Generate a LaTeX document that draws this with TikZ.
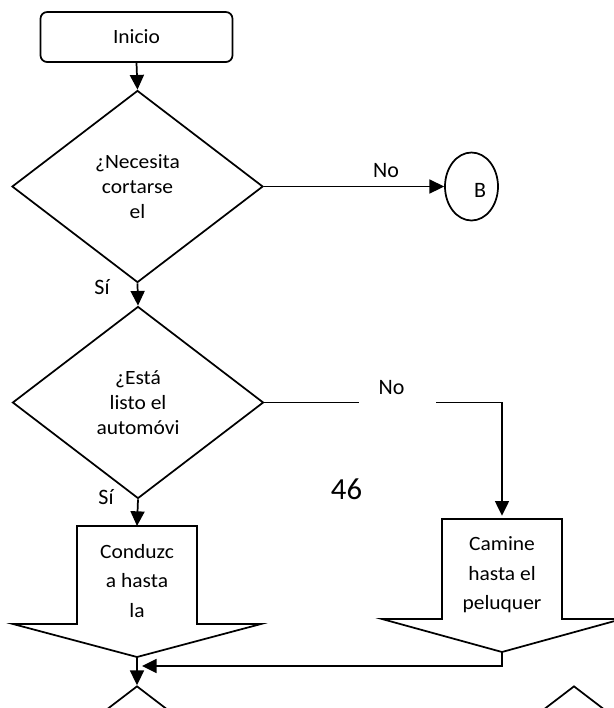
\documentclass[tikz,border=0pt]{standalone}
\usepackage{fontspec}
\setmainfont{Carlito}
\newfontfamily\bodyfont{Carlito}[FakeStretch=1.06]
\usetikzlibrary{shapes.geometric,arrows.meta,calc}

\begin{document}
\begin{tikzpicture}[x=0.75pt,y=-0.75pt,line width=1.3pt,
  flow/.style={-{Triangle[length=11pt,width=10.5pt]}},
  boxtext/.style={font=\bodyfont\fontsize{15.2}{18.75}\selectfont,align=center,inner sep=0pt},
  arrowtext/.style={font=\bodyfont\fontsize{15.2}{22.1}\selectfont,align=center,inner sep=0pt},
  lbl/.style={font=\fontsize{16.5}{19}\selectfont,inner sep=0pt},
  startbox/.style={draw,rounded corners=5pt,minimum width=144pt,minimum height=37.5pt,
    boxtext},
  decision/.style={diamond,draw,minimum width=188.25pt,minimum height=144pt,
    inner sep=0pt,boxtext},
  connector/.style={ellipse,draw,minimum width=39.75pt,minimum height=51pt,inner sep=0pt}]

% page area
\useasboundingbox (0,0) rectangle (614,708);
\clip (0,0) rectangle (614,708);
\fill[white] (0,0) rectangle (614,708);

% start and first decision
\node[startbox] (inicio) at (136.5,37) {Inicio};
\node[decision] (d1) at (137.5,186.5) {¿Necesita\\cortarse\\el};
\node[connector] (B) at (471.5,186.5) {};
\node[lbl] (Btxt) at ($(B.center)+(8.5,3.5)$) {B};

\draw[flow] (inicio.south) -- (d1.north);
\draw[flow] (d1.east) -- (B.west);
\node[lbl] (no1) at (386,171) {No};

% second decision
\node[decision] (d2) at (138,402.5) {¿Está\\listo el\\automóvi};
\draw[flow] (d1.south) -- (d2.north);
\node[lbl] (si1) at (102,287) {Sí};

% block arrow: drive
\coordinate (condTop) at (137,526);
\coordinate (condTip) at (137,657);
\draw (77,526) -- (197,526) -- (197,624) -- (261,624) -- (condTip)
      -- (13,624) -- (77,624) -- cycle;
\node[arrowtext] (conduzca) at (137,581) {Conduzc\\a hasta\\la};
\draw[flow] (d2.south) -- (condTop);
\node[lbl] (si2) at (106,497) {Sí};

% block arrow: walk
\coordinate (camTop) at (502,519);
\coordinate (camTip) at (502,652);
\draw (442,519) -- (562,519) -- (562,619) -- (622,619) -- (camTip)
      -- (382,619) -- (442,619) -- cycle;
\node[arrowtext] (camine) at (502,575) {Camine\\hasta el\\peluquer};

% "No" branch of the second decision
\coordinate (gapL) at (359,402.5);
\coordinate (gapR) at (436,402.5);
\draw (d2.east) -- (gapL);
\draw[flow,shorten >=2.5pt] (gapR) -| (camTop);
\node[lbl] (no2) at (391.5,388) {No};

\node[font=\fontsize{23}{28}\selectfont,inner sep=0pt] (pg) at (346.5,489.5) {46};

% merge and next decisions
\node[decision] (d3) at (137,782) {};
\node[decision] (d4) at (574,782) {};
\coordinate (join) at (142,666);
\draw[flow] (camTip) |- (join);
\draw[flow] (condTip) -- (d3.north);

\end{tikzpicture}
\end{document}
